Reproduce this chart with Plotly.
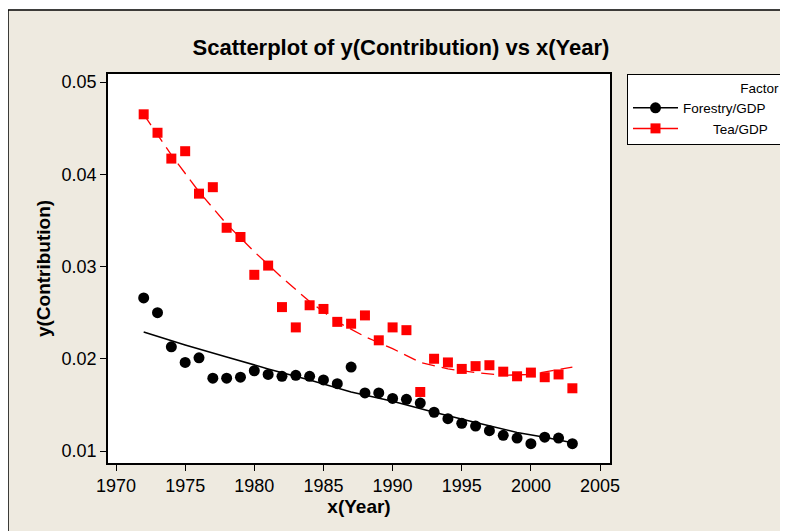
import plotly.graph_objects as go

years = list(range(1972, 2004))
forestry = [0.0266, 0.0250, 0.0213, 0.0196, 0.0201, 0.0179, 0.0179, 0.0180,
            0.0187, 0.0183, 0.0181, 0.0182, 0.0181, 0.0177, 0.0173, 0.0191,
            0.0163, 0.0163, 0.0157, 0.0156, 0.0152, 0.0142, 0.0135, 0.0130,
            0.0127, 0.0122, 0.0117, 0.0114, 0.0108, 0.0115, 0.0114, 0.0108]
tea = [0.0465, 0.0445, 0.0417, 0.0425, 0.0379, 0.0386, 0.0342, 0.0332,
       0.0291, 0.0301, 0.0256, 0.0234, 0.0258, 0.0254, 0.0240, 0.0238,
       0.0247, 0.0220, 0.0234, 0.0231, 0.0164, 0.0200, 0.0196, 0.0189,
       0.0192, 0.0193, 0.0186, 0.0181, 0.0185, 0.0180, 0.0183, 0.0168]

# smoothed fit lines
forestry_fit_years = [1972, 1975, 1978, 1981, 1984, 1987, 1990, 1993, 1996, 1999, 2001, 2003]
forestry_fit = [0.0229, 0.0215, 0.0202, 0.0189, 0.0177, 0.0164, 0.0154, 0.0142,
                0.0131, 0.0120, 0.0115, 0.0109]
tea_fit_years = [1972, 1974, 1976, 1978, 1980, 1982, 1984, 1986, 1988, 1990,
                 1992, 1994, 1996, 1998, 2000, 2002, 2003]
tea_fit = [0.0465, 0.0421, 0.0381, 0.0346, 0.0316, 0.0288, 0.0262, 0.0240,
           0.0224, 0.0211, 0.0196, 0.0189, 0.0185, 0.0182, 0.0183, 0.0188, 0.0191]

x_ticks = [1970, 1975, 1980, 1985, 1990, 1995, 2000, 2005]
y_ticks = [0.01, 0.02, 0.03, 0.04, 0.05]

# the page puts the figure 8px in from the top-left corner
W, H = 780, 523
L, R, T, B = 100, 178, 66, 68
FONT = "Liberation Sans, Arial, sans-serif"
BEIGE = "#EEEAE0"
NB = "\u00a0"


def px(x):
    return (x - L) / (W - L - R)


def py(y):
    return (H - B - y) / (H - T - B)


fig = go.Figure()

fig.add_trace(go.Scatter(x=forestry_fit_years, y=forestry_fit, mode="lines",
                         line=dict(color="black", width=1.5), showlegend=False))
fig.add_trace(go.Scatter(x=tea_fit_years, y=tea_fit, mode="lines",
                         line=dict(color="#FF0000", width=1.3, dash="13px,7px"),
                         showlegend=False))
fig.add_trace(go.Scatter(x=years, y=forestry, mode="markers",
                         marker=dict(symbol="circle", size=11, color="black"),
                         showlegend=False))
fig.add_trace(go.Scatter(x=years, y=tea, mode="markers",
                         marker=dict(symbol="square", size=10, color="#FF0000"),
                         showlegend=False))

# legend entries (line + marker)
fig.add_trace(go.Scatter(x=[None], y=[None], mode="lines+markers",
                         name="Forestry/GDP" + NB * 2,
                         line=dict(color="black", width=1.5),
                         marker=dict(symbol="circle", size=11, color="black")))
fig.add_trace(go.Scatter(x=[None], y=[None], mode="lines+markers",
                         name=NB * 8 + "Tea/GDP" + NB * 2,
                         line=dict(color="#FF0000", width=1.5),
                         marker=dict(symbol="square", size=10, color="#FF0000")))

axis_common = dict(showgrid=False, zeroline=False, showline=True, linecolor="black",
                   linewidth=1.5, mirror=True, ticks="outside", ticklen=6,
                   tickwidth=1, tickcolor="black",
                   tickfont=dict(family=FONT, size=18, color="black"))

fig.update_xaxes(range=[1969.42, 2005.72], tickvals=x_ticks,
                 title=dict(text="x(Year)", standoff=4,
                            font=dict(family=FONT, size=19, color="black", weight="bold")),
                 **axis_common)
fig.update_yaxes(range=[0.0087, 0.05087], tickvals=y_ticks, tickformat=".2f",
                 title=dict(text="y(Contribution)", standoff=6,
                            font=dict(family=FONT, size=19, color="black", weight="bold")),
                 **axis_common)

fig.update_layout(
    width=W, height=H,
    margin=dict(l=L, r=R, t=T, b=B, autoexpand=False),
    paper_bgcolor=BEIGE, plot_bgcolor="white",
    font=dict(family=FONT, color="black"),
    title=dict(text="Scatterplot of y(Contribution) vs x(Year)",
               x=393 / W, xref="container", xanchor="center",
               y=1 - 39 / H, yref="container", yanchor="middle",
               font=dict(family=FONT, size=22, color="black", weight="bold")),
    legend=dict(x=px(619), y=py(66), xanchor="left", yanchor="top",
                bgcolor="white", bordercolor="black", borderwidth=1,
                itemwidth=45,
                font=dict(family=FONT, size=13.5, color="black"),
                title=dict(text="Factor", side="top right",
                           font=dict(family=FONT, size=13.5, color="black"))),
    shapes=[
        # white strip above the window frame
        dict(type="rect", xref="paper", yref="paper", x0=px(-5), x1=px(W),
             y0=py(1.5), y1=py(-5), fillcolor="white", line_width=0, layer="above"),
        # frame lines
        dict(type="line", xref="paper", yref="paper", x0=px(0), x1=px(W),
             y0=py(2), y1=py(2), line=dict(color="black", width=1.5)),
        dict(type="line", xref="paper", yref="paper", x0=px(0), x1=px(0),
             y0=py(2), y1=py(H), line=dict(color="black", width=1.5)),
    ],
)

# keep the page from growing scrollbars
fig.write_html("out.html", config={"displayModeBar": False},
               post_script="document.body.style.overflow='hidden';")
